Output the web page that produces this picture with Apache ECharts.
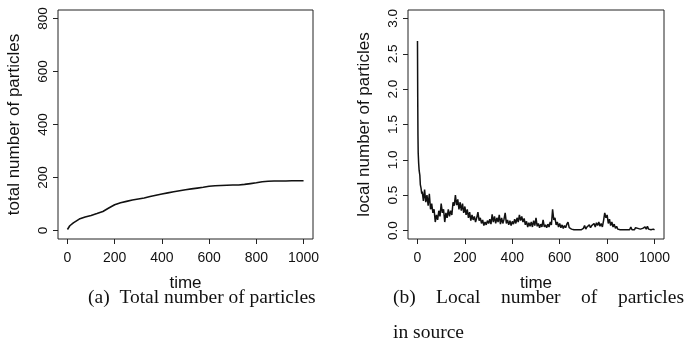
<!DOCTYPE html>
<html>
<head>
<meta charset="utf-8">
<script src="https://cdn.jsdelivr.net/npm/echarts@6/dist/echarts.min.js"></script>
<style>
html,body{margin:0;padding:0;background:#fff;}
#chart{width:684px;height:353px;}
</style>
</head>
<body>
<div id="chart"></div>
<script>
// ---- data ----
const timeTicks = [0, 200, 400, 600, 800, 1000];
const totalTicks = [0, 200, 400, 600, 800];
const localTicks = [0, 0.5, 1.0, 1.5, 2.0, 2.5, 3.0];

const totalTime = [0,10,25,50,75,100,125,150,175,200,225,250,275,300,325,350,375,400,425,450,475,500,525,550,575,600,625,650,675,700,725,750,775,800,825,850,875,900,925,950,975,1000];
const totalValue = [4,18,29,43,51,57,64,72,85,97,105,110,115,119,123,128,133,138,142,146,150,154,157,160,163,167,169,170,171,172,172,174,177,180,184,186,187,187,187,188,188,188];

const localTime = [0,1,2,3,5,7,10,12,15,18,
20,25,30,35,40,45,50,55,60,65,70,75,80,85,90,95,
100,105,110,115,120,125,130,135,140,145,150,155,160,165,170,175,180,185,190,195,
200,205,210,215,220,225,230,235,240,245,250,255,260,265,270,275,280,285,290,295,
300,305,310,315,320,325,330,335,340,345,350,355,360,365,370,375,380,385,390,395,
400,405,410,415,420,425,430,435,440,445,450,455,460,465,470,475,480,485,490,495,
500,505,510,515,520,525,530,535,540,545,550,555,560,565,570,575,580,585,590,595,
600,605,610,615,620,625,630,635,640,645,650,655,660,665,670,675,680,685,690,695,
700,705,710,715,720,725,730,735,740,745,750,755,760,765,770,775,780,785,790,795,
800,805,810,815,820,825,830,835,840,845,850,855,860,865,870,875,880,885,890,895,
900,905,910,915,920,925,930,935,940,945,950,955,960,965,970,975,980,985,990,995,1000];
const localValue = [2.68,1.9,1.35,1.1,0.95,0.85,0.78,0.65,0.6,0.52,
0.55,0.42,0.58,0.40,0.50,0.35,0.52,0.30,0.38,0.25,0.30,0.12,0.22,0.15,0.28,0.20,
0.38,0.25,0.30,0.12,0.25,0.18,0.30,0.20,0.28,0.22,0.40,0.35,0.50,0.36,0.44,0.30,0.40,0.28,0.38,0.25,
0.34,0.22,0.30,0.18,0.26,0.14,0.22,0.15,0.20,0.12,0.18,0.26,0.14,0.18,0.10,0.15,0.07,0.12,0.08,0.14,
0.10,0.16,0.09,0.23,0.12,0.20,0.10,0.18,0.12,0.22,0.09,0.18,0.10,0.16,0.25,0.10,0.15,0.08,0.14,0.07,
0.13,0.09,0.16,0.10,0.18,0.12,0.22,0.14,0.20,0.12,0.17,0.08,0.13,0.05,0.11,0.06,0.12,0.05,0.14,0.07,
0.18,0.06,0.10,0.04,0.09,0.05,0.15,0.05,0.08,0.04,0.09,0.05,0.12,0.08,0.30,0.15,0.18,0.08,0.12,0.05,
0.10,0.04,0.08,0.03,0.07,0.04,0.09,0.12,0.04,0.06,0.02,0.04,0.01,0.03,0.01,0.02,0.01,0.03,0.01,0.02,
0.03,0.07,0.02,0.05,0.03,0.08,0.04,0.07,0.05,0.10,0.05,0.11,0.07,0.12,0.06,0.10,0.05,0.14,0.25,0.18,
0.22,0.10,0.16,0.07,0.12,0.05,0.09,0.03,0.06,0.02,0.04,0.01,0.03,0.01,0.02,0.01,0.03,0.01,0.02,0.01,
0.05,0.01,0.02,0.01,0.04,0.02,0.03,0.01,0.02,0.01,0.03,0.01,0.05,0.02,0.06,0.02,0.04,0.01,0.03,0.02,0.01];

const xTitle = 'time';
const yTitleA = 'total number of particles';
const yTitleB = 'local number of particles';
const captionA = '(a)  Total number of particles';
const captionBWords = ['(b)', 'Local', 'number', 'of', 'particles'];
const captionBLine2 = 'in source';

// ---- chart ----
const chart = echarts.init(document.getElementById('chart'), null, {renderer: 'canvas'});
const sans = 'Liberation Sans, Arial, Helvetica, sans-serif';
const serif = 'Liberation Serif, Times New Roman, serif';

function xAxisDef(gi) {
  return {
    type: 'value', gridIndex: gi, min: -40, max: 1040,
    name: xTitle, nameLocation: 'middle', nameGap: 36,
    nameTextStyle: {fontFamily: sans, fontSize: 17, color: '#111'},
    axisLine: {show: false, onZero: false},
    axisTick: {show: true, length: 5, customValues: timeTicks, lineStyle: {color: '#222', width: 1}},
    axisLabel: {customValues: timeTicks, margin: 12, fontFamily: sans, fontSize: 14, color: '#111', formatter: v => String(v)},
    splitLine: {show: false}
  };
}
function yAxisDef(gi, min, max, ticks, title, fmt) {
  return {
    type: 'value', gridIndex: gi, min: min, max: max,
    name: title, nameLocation: 'middle', nameGap: 35, nameRotate: 90,
    nameTextStyle: {fontFamily: sans, fontSize: 17, color: '#111'},
    axisLine: {show: false, onZero: false},
    axisTick: {show: true, length: 5, customValues: ticks, lineStyle: {color: '#222', width: 1}},
    axisLabel: {customValues: ticks, rotate: 90, margin: 8, fontFamily: sans, fontSize: 13.5, color: '#111', formatter: fmt},
    splitLine: {show: false}
  };
}

const capFont = 19.5;
const capStyle = t => ({text: t, fontFamily: serif, fontSize: capFont, fill: '#111'});
const bX = [393, 436, 501, 581];

const option = {
  animation: false,
  backgroundColor: '#fff',
  grid: [
    {left: 58, top: 10, width: 255, height: 229, show: true, borderColor: '#222', borderWidth: 1, backgroundColor: 'transparent'},
    {left: 408, top: 10, width: 256, height: 229, show: true, borderColor: '#222', borderWidth: 1, backgroundColor: 'transparent'}
  ],
  xAxis: [xAxisDef(0), xAxisDef(1)],
  yAxis: [
    yAxisDef(0, -32, 832, totalTicks, yTitleA, v => String(v)),
    yAxisDef(1, -0.12, 3.12, localTicks, yTitleB, v => Number(v).toFixed(1))
  ],
  series: [
    {type: 'line', xAxisIndex: 0, yAxisIndex: 0, showSymbol: false, smooth: false,
     lineStyle: {color: '#111', width: 1.6},
     data: totalTime.map((t, i) => [t, totalValue[i]])},
    {type: 'line', xAxisIndex: 1, yAxisIndex: 1, showSymbol: false, smooth: false,
     lineStyle: {color: '#111', width: 1.5},
     data: localTime.map((t, i) => [t, localValue[i]])}
  ],
  graphic: [
    {type: 'text', left: 88, top: 288, style: capStyle(captionA)},
    {type: 'text', left: bX[0], top: 288, style: capStyle(captionBWords[0])},
    {type: 'text', left: bX[1], top: 288, style: capStyle(captionBWords[1])},
    {type: 'text', left: bX[2], top: 288, style: capStyle(captionBWords[2])},
    {type: 'text', left: bX[3], top: 288, style: capStyle(captionBWords[3])},
    {type: 'text', right: 0, top: 288, style: capStyle(captionBWords[4])},
    {type: 'text', left: bX[0], top: 323, style: capStyle(captionBLine2)}
  ]
};
chart.setOption(option);
</script>
</body>
</html>
